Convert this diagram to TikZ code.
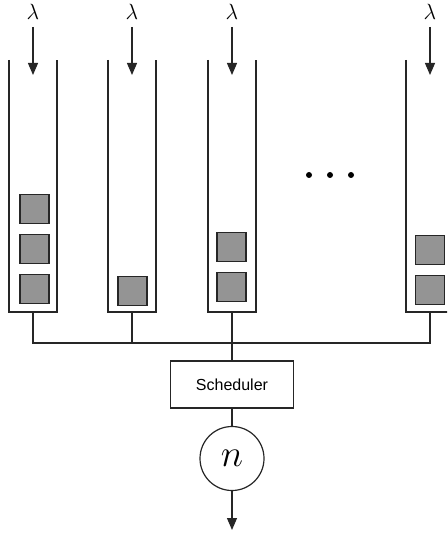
\RequirePackage{fix-cm}
\documentclass[tikz,border=0pt]{standalone}
\usepackage{fontspec}
\newfontfamily\schedfont{Liberation Sans}
\usetikzlibrary{arrows.meta}
\tikzset{
  wall/.style={draw=black!85, line width=1.2pt},
  conn/.style={draw=black!85, line width=1.2pt},
  arr/.style={draw=black!85, line width=1.2pt, -{Triangle[length=12pt,width=10pt]}},
  job/.style={draw=black!85, fill=black!42, line width=1.2pt, minimum width=29pt, minimum height=29pt, inner sep=0pt},
  lam/.style={font=\fontsize{22}{24}\selectfont, inner sep=0pt},
  sched/.style={draw=black!85, line width=1.2pt, minimum width=123pt, minimum height=47pt, inner sep=0pt, font=\schedfont\fontsize{16}{18}\selectfont},
  server/.style={draw=black!85, line width=1.2pt, circle, minimum size=64pt, inner sep=0pt, font=\fontsize{38}{40}\selectfont},
  dot/.style={circle, fill=black, minimum size=6pt, inner sep=0pt}
}
\begin{document}
\begin{tikzpicture}[x=1pt,y=-1pt]
\useasboundingbox (0,0) rectangle (447,537);
\clip (0,0) rectangle (447,537);
% arrival labels and queue walls
\foreach \i/\c in {1/33,2/132,3/232,4/430}{
  \node[lam] (l\i) at (\c,12) {$\lambda$};
  \coordinate (a\i) at (\c,27);
  \coordinate (e\i) at (\c,75);
  \draw[arr] (a\i) -- (e\i);
  \draw[wall] (\c-24,60) -- (\c-24,312) -- (\c+24,312) -- (\c+24,60);
  \coordinate (q\i) at (\c,312);
  \coordinate (j\i) at (\c,343);
}
% jobs
\node[job] (b11) at (34.5,209) {};
\node[job] (b12) at (34.5,249) {};
\node[job] (b13) at (34.5,289) {};
\node[job] (b21) at (132.5,291) {};
\node[job] (b31) at (231.5,247) {};
\node[job] (b32) at (231.5,287) {};
\node[job] (b41) at (430,250) {};
\node[job] (b42) at (430,290) {};
% dots
\node[dot] (d1) at (309,175) {};
\node[dot] (d2) at (330,175) {};
\node[dot] (d3) at (351,175) {};
% scheduler and server
\node[sched] (s) at (232,384.5) {Scheduler};
\node[server] (n) at (232,458.5) {$n$};
\coordinate (out) at (232,530);
% connectors
\draw[conn] (q1) -- (j1) -- (j4) -- (q4);
\draw[conn] (q2) -- (j2);
\draw[conn] (q3) -- (s.north);
\draw[conn] (s.south) -- (n.north);
\draw[arr] (n.south) -- (out);
\end{tikzpicture}
\end{document}
